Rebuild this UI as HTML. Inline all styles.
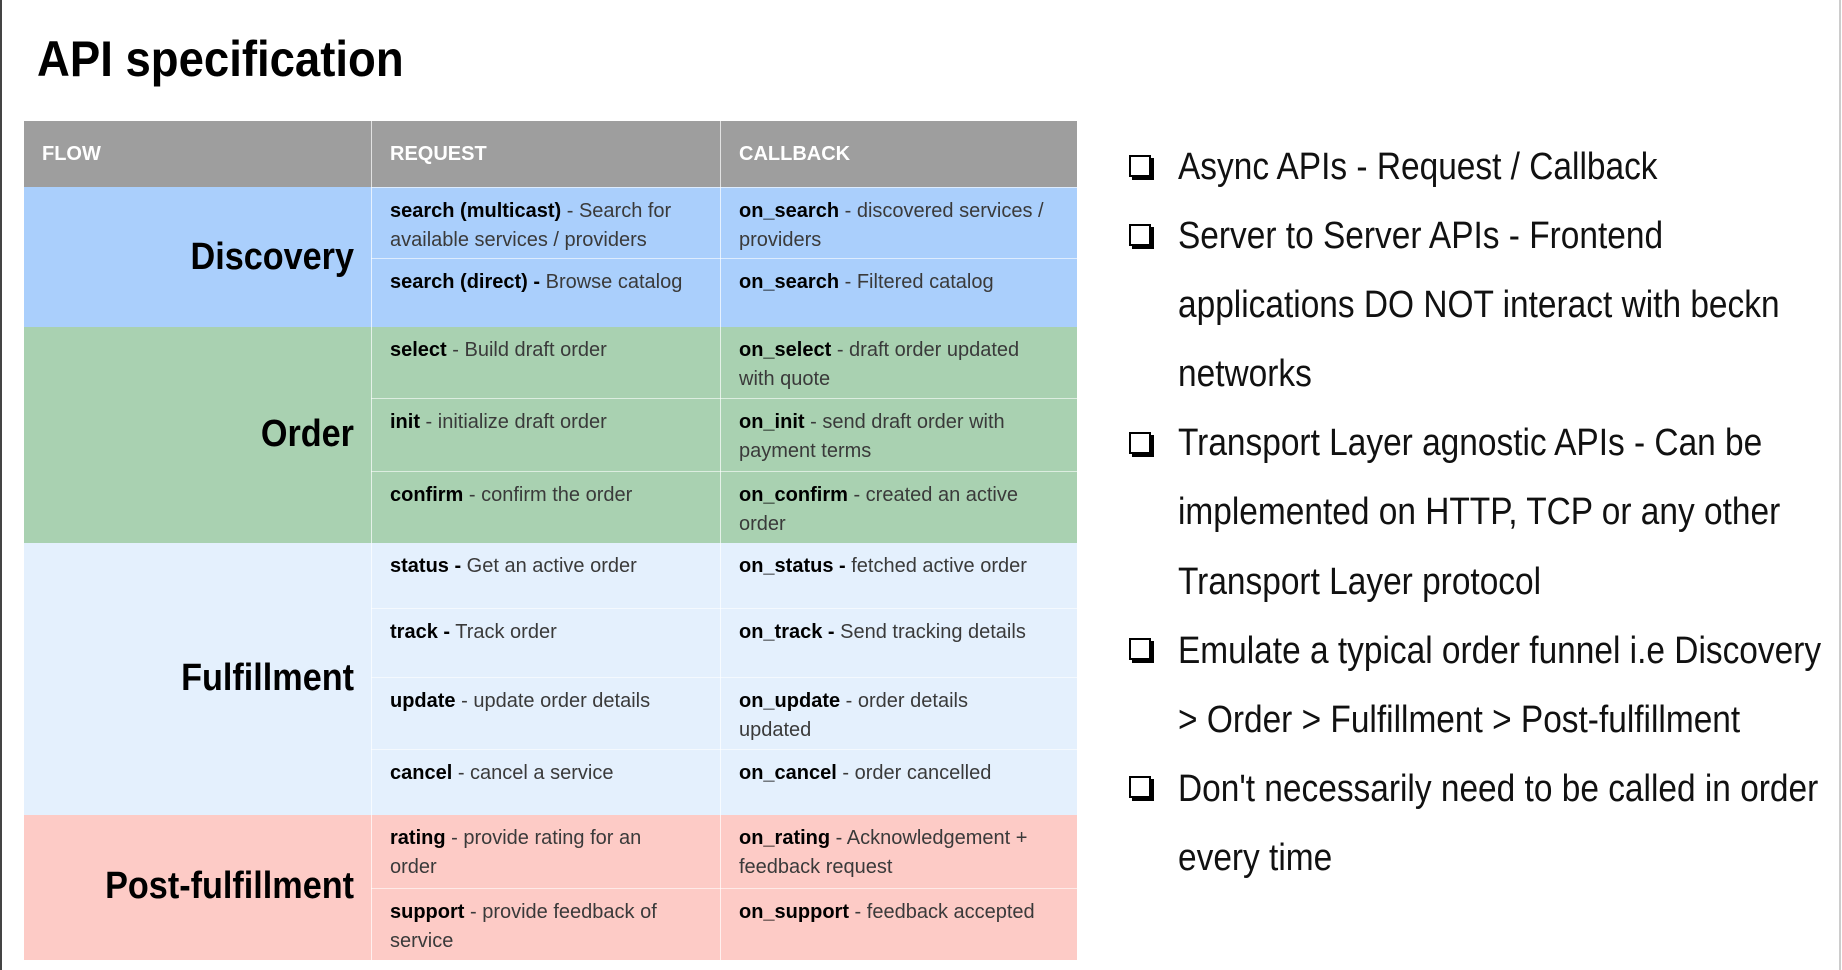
<!DOCTYPE html>
<html><head><meta charset="utf-8"><style>
html,body{margin:0;padding:0;background:#fff;}
body{width:1842px;height:970px;position:relative;overflow:hidden;font-family:"Liberation Sans",sans-serif;}
.a{position:absolute;}
.title{left:37px;top:30px;font-size:50px;font-weight:bold;color:#000;transform:scaleX(0.91);transform-origin:left top;white-space:nowrap;}
.hd{color:#fff;font-weight:bold;font-size:20px;top:121px;height:66px;line-height:66px;background:#9e9e9e;}
.cell{box-sizing:border-box;padding:9px 0 0 19px;font-size:20px;line-height:29px;color:#3a3a3a;white-space:nowrap;border-top:1px solid rgba(255,255,255,0.6);}
.cell b{color:#000;}
.flow{font-weight:bold;font-size:38px;color:#000;text-align:right;white-space:nowrap;transform:scaleX(0.9);transform-origin:right center;}
.vl{position:absolute;width:1px;background:rgba(255,255,255,0.7);}
.bul{left:1178px;top:133px;font-size:38px;line-height:69.1px;color:#111;white-space:nowrap;transform:scaleX(0.88);transform-origin:left top;font-weight:normal;}
.cb{position:absolute;left:1129px;width:18px;height:18px;border:2px solid #000;box-shadow:3px 3px 0 #000;background:#fff;}
</style></head><body>
<div class="a" style="left:0;top:0;width:2px;height:970px;background:#444"></div>
<div class="a" style="left:1839px;top:0;width:2px;height:970px;background:#ccc"></div>
<div class="a title">API specification</div>

<div class="a hd" style="left:24px;width:347px;padding-left:18px;box-sizing:border-box">FLOW</div>
<div class="a hd" style="left:371px;width:349px;padding-left:19px;box-sizing:border-box">REQUEST</div>
<div class="a hd" style="left:720px;width:357px;padding-left:19px;box-sizing:border-box">CALLBACK</div>

<div class="a" style="left:24px;top:187px;width:1053px;height:140px;background:#aacffc"></div>
<div class="a" style="left:24px;top:327px;width:1053px;height:216px;background:#a9d1b1"></div>
<div class="a" style="left:24px;top:543px;width:1053px;height:272px;background:#e4f0fd"></div>
<div class="a" style="left:24px;top:815px;width:1053px;height:145px;background:#fdcbc6"></div>

<div class="a flow" style="left:24px;width:330px;top:236px;">Discovery</div>
<div class="a flow" style="left:24px;width:330px;top:413px;">Order</div>
<div class="a flow" style="left:24px;width:330px;top:657px;">Fulfillment</div>
<div class="a flow" style="left:24px;width:330px;top:865px;">Post-fulfillment</div>

<div class="a cell" style="left:371px;top:187px;width:349px;height:71px"><b>search (multicast)</b> - Search for<br>available services / providers</div>
<div class="a cell" style="left:371px;top:258px;width:349px;height:69px"><b>search (direct) -</b> Browse catalog</div>
<div class="a cell" style="left:371px;top:327px;width:349px;height:71px;border-top:none"><b>select</b> - Build draft order</div>
<div class="a cell" style="left:371px;top:398px;width:349px;height:73px"><b>init</b> - initialize draft order</div>
<div class="a cell" style="left:371px;top:471px;width:349px;height:72px"><b>confirm</b> - confirm the order</div>
<div class="a cell" style="left:371px;top:543px;width:349px;height:65px;border-top:none"><b>status -</b> Get an active order</div>
<div class="a cell" style="left:371px;top:608px;width:349px;height:69px"><b>track -</b> Track order</div>
<div class="a cell" style="left:371px;top:677px;width:349px;height:72px"><b>update</b> - update order details</div>
<div class="a cell" style="left:371px;top:749px;width:349px;height:66px"><b>cancel</b> - cancel a service</div>
<div class="a cell" style="left:371px;top:815px;width:349px;height:73px;border-top:none"><b>rating</b> - provide rating for an<br>order</div>
<div class="a cell" style="left:371px;top:888px;width:349px;height:72px"><b>support</b> - provide feedback of<br>service</div>

<div class="a cell" style="left:720px;top:187px;width:357px;height:71px"><b>on_search</b> - discovered services /<br>providers</div>
<div class="a cell" style="left:720px;top:258px;width:357px;height:69px"><b>on_search</b> - Filtered catalog</div>
<div class="a cell" style="left:720px;top:327px;width:357px;height:71px;border-top:none"><b>on_select</b> - draft order updated<br>with quote</div>
<div class="a cell" style="left:720px;top:398px;width:357px;height:73px"><b>on_init</b> - send draft order with<br>payment terms</div>
<div class="a cell" style="left:720px;top:471px;width:357px;height:72px"><b>on_confirm</b> - created an active<br>order</div>
<div class="a cell" style="left:720px;top:543px;width:357px;height:65px;border-top:none"><b>on_status -</b> fetched active order</div>
<div class="a cell" style="left:720px;top:608px;width:357px;height:69px"><b>on_track -</b> Send tracking details</div>
<div class="a cell" style="left:720px;top:677px;width:357px;height:72px"><b>on_update</b> - order details<br>updated</div>
<div class="a cell" style="left:720px;top:749px;width:357px;height:66px"><b>on_cancel</b> - order cancelled</div>
<div class="a cell" style="left:720px;top:815px;width:357px;height:73px;border-top:none"><b>on_rating</b> - Acknowledgement +<br>feedback request</div>
<div class="a cell" style="left:720px;top:888px;width:357px;height:72px"><b>on_support</b> - feedback accepted</div>

<div class="vl" style="left:371px;top:121px;height:839px"></div>
<div class="vl" style="left:720px;top:121px;height:839px"></div>

<div class="cb" style="top:155px"></div>
<div class="cb" style="top:224px"></div>
<div class="cb" style="top:432px"></div>
<div class="cb" style="top:638px"></div>
<div class="cb" style="top:776px"></div>
<div class="a bul">Async APIs - Request / Callback<br>Server to Server APIs - Frontend<br>applications DO NOT interact with beckn<br>networks<br>Transport Layer agnostic APIs - Can be<br>implemented on HTTP, TCP or any other<br>Transport Layer protocol<br>Emulate a typical order funnel i.e Discovery<br>&gt; Order &gt; Fulfillment &gt; Post-fulfillment<br>Don't necessarily need to be called in order<br>every time</div>
</body></html>
